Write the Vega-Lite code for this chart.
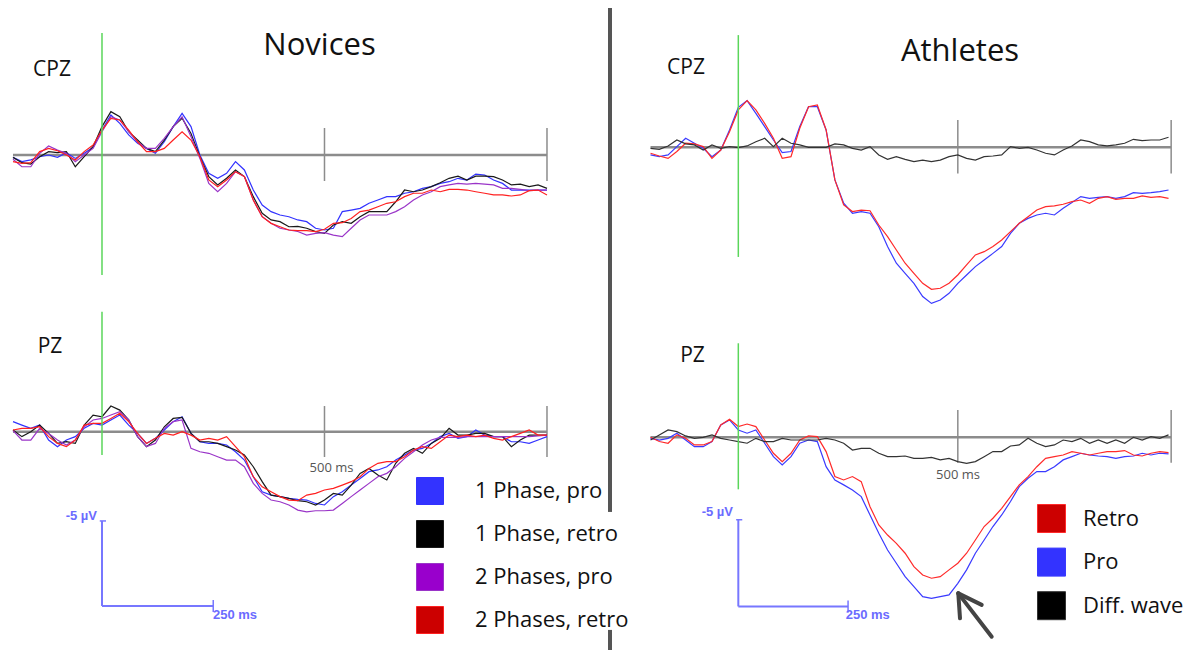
{
  "$schema": "https://vega.github.io/schema/vega-lite/v6.json",
  "padding": 0,
  "background": "white",
  "columns": 2,
  "spacing": 0,
  "bounds": "flush",
  "config": {"view": {"stroke": null}, "font": "Open Sans", "concat": {"spacing": 0}},
  "resolve": {"scale": {"color": "independent", "x": "independent", "y": "independent"}, "legend": {"color": "independent"}},
  "datasets": {
    "novCPZ": [
      {"t": -200, "1 Phase, pro": 0.14, "1 Phase, retro": 0.14, "2 Phases, pro": 0.25, "2 Phases, retro": 0.39},
      {"t": -180, "1 Phase, pro": 0.39, "1 Phase, retro": 0.45, "2 Phases, pro": 0.69, "2 Phases, retro": 0.49},
      {"t": -160, "1 Phase, pro": 0.29, "1 Phase, retro": 0.53, "2 Phases, pro": 0.69, "2 Phases, retro": 0.45},
      {"t": -140, "1 Phase, pro": 0.1, "1 Phase, retro": 0.1, "2 Phases, pro": -0.1, "2 Phases, retro": -0.2},
      {"t": -120, "1 Phase, pro": 0, "1 Phase, retro": -0.2, "2 Phases, pro": -0.53, "2 Phases, retro": -0.39},
      {"t": -100, "1 Phase, pro": 0.14, "1 Phase, retro": -0.14, "2 Phases, pro": -0.29, "2 Phases, retro": -0.25},
      {"t": -80, "1 Phase, pro": -0.14, "1 Phase, retro": -0.2, "2 Phases, pro": -0.1, "2 Phases, retro": 0},
      {"t": -60, "1 Phase, pro": 0.2, "1 Phase, retro": 0.69, "2 Phases, pro": 0.39, "2 Phases, retro": 0.29},
      {"t": -40, "1 Phase, pro": -0.1, "1 Phase, retro": 0.1, "2 Phases, pro": 0, "2 Phases, retro": -0.2},
      {"t": -20, "1 Phase, pro": -0.45, "1 Phase, retro": -0.49, "2 Phases, pro": -0.39, "2 Phases, retro": -0.59},
      {"t": 0, "1 Phase, pro": -1.47, "1 Phase, retro": -1.67, "2 Phases, pro": -1.37, "2 Phases, retro": -1.47},
      {"t": 20, "1 Phase, pro": -2.35, "1 Phase, retro": -2.55, "2 Phases, pro": -2.25, "2 Phases, retro": -2.16},
      {"t": 40, "1 Phase, pro": -1.86, "1 Phase, retro": -2.25, "2 Phases, pro": -2.06, "2 Phases, retro": -2.06},
      {"t": 60, "1 Phase, pro": -1.18, "1 Phase, retro": -1.37, "2 Phases, pro": -1.37, "2 Phases, retro": -1.47},
      {"t": 80, "1 Phase, pro": -0.69, "1 Phase, retro": -0.88, "2 Phases, pro": -0.78, "2 Phases, retro": -0.78},
      {"t": 100, "1 Phase, pro": -0.39, "1 Phase, retro": -0.39, "2 Phases, pro": -0.39, "2 Phases, retro": -0.2},
      {"t": 120, "1 Phase, pro": -0.1, "1 Phase, retro": -0.2, "2 Phases, pro": -0.39, "2 Phases, retro": -0.2},
      {"t": 140, "1 Phase, pro": -0.78, "1 Phase, retro": -0.88, "2 Phases, pro": -0.98, "2 Phases, retro": -0.39},
      {"t": 160, "1 Phase, pro": -1.67, "1 Phase, retro": -1.67, "2 Phases, pro": -1.67, "2 Phases, retro": -0.88},
      {"t": 180, "1 Phase, pro": -2.45, "1 Phase, retro": -2.16, "2 Phases, pro": -2.25, "2 Phases, retro": -1.37},
      {"t": 200, "1 Phase, pro": -1.67, "1 Phase, retro": -1.27, "2 Phases, pro": -1.08, "2 Phases, retro": -0.88},
      {"t": 220, "1 Phase, pro": 0, "1 Phase, retro": 0.1, "2 Phases, pro": 0.2, "2 Phases, retro": 0.1},
      {"t": 240, "1 Phase, pro": 1.08, "1 Phase, retro": 1.27, "2 Phases, pro": 1.67, "2 Phases, retro": 1.47},
      {"t": 260, "1 Phase, pro": 1.37, "1 Phase, retro": 1.76, "2 Phases, pro": 2.16, "2 Phases, retro": 1.86},
      {"t": 280, "1 Phase, pro": 1.08, "1 Phase, retro": 1.37, "2 Phases, pro": 1.67, "2 Phases, retro": 1.47},
      {"t": 300, "1 Phase, pro": 0.39, "1 Phase, retro": 0.88, "2 Phases, pro": 0.98, "2 Phases, retro": 0.98},
      {"t": 320, "1 Phase, pro": 0.88, "1 Phase, retro": 1.27, "2 Phases, pro": 1.27, "2 Phases, retro": 1.27},
      {"t": 340, "1 Phase, pro": 2.06, "1 Phase, retro": 2.45, "2 Phases, pro": 2.65, "2 Phases, retro": 2.65},
      {"t": 360, "1 Phase, pro": 2.94, "1 Phase, retro": 3.43, "2 Phases, pro": 3.63, "2 Phases, retro": 3.63},
      {"t": 380, "1 Phase, pro": 3.33, "1 Phase, retro": 3.82, "2 Phases, pro": 4.02, "2 Phases, retro": 4.02},
      {"t": 400, "1 Phase, pro": 3.53, "1 Phase, retro": 3.92, "2 Phases, pro": 4.31, "2 Phases, retro": 4.22},
      {"t": 420, "1 Phase, pro": 3.63, "1 Phase, retro": 4.22, "2 Phases, pro": 4.41, "2 Phases, retro": 4.41},
      {"t": 440, "1 Phase, pro": 3.82, "1 Phase, retro": 4.2, "2 Phases, pro": 4.5, "2 Phases, retro": 4.45},
      {"t": 460, "1 Phase, pro": 3.92, "1 Phase, retro": 4.31, "2 Phases, pro": 4.71, "2 Phases, retro": 4.45},
      {"t": 480, "1 Phase, pro": 4.31, "1 Phase, retro": 4.51, "2 Phases, pro": 4.61, "2 Phases, retro": 4.51},
      {"t": 500, "1 Phase, pro": 4.41, "1 Phase, retro": 4.61, "2 Phases, pro": 4.57, "2 Phases, retro": 4.37},
      {"t": 520, "1 Phase, pro": 4.31, "1 Phase, retro": 4.12, "2 Phases, pro": 4.71, "2 Phases, retro": 4.02},
      {"t": 540, "1 Phase, pro": 3.33, "1 Phase, retro": 3.92, "2 Phases, pro": 4.8, "2 Phases, retro": 3.98},
      {"t": 560, "1 Phase, pro": 3.24, "1 Phase, retro": 4.02, "2 Phases, pro": 4.31, "2 Phases, retro": 3.73},
      {"t": 580, "1 Phase, pro": 3.14, "1 Phase, retro": 3.63, "2 Phases, pro": 3.82, "2 Phases, retro": 3.33},
      {"t": 600, "1 Phase, pro": 2.84, "1 Phase, retro": 3.33, "2 Phases, pro": 3.53, "2 Phases, retro": 3.24},
      {"t": 620, "1 Phase, pro": 2.65, "1 Phase, retro": 3.33, "2 Phases, pro": 3.53, "2 Phases, retro": 3.04},
      {"t": 640, "1 Phase, pro": 2.45, "1 Phase, retro": 3.33, "2 Phases, pro": 3.53, "2 Phases, retro": 2.84},
      {"t": 660, "1 Phase, pro": 2.45, "1 Phase, retro": 2.75, "2 Phases, pro": 3.33, "2 Phases, retro": 2.75},
      {"t": 680, "1 Phase, pro": 2.25, "1 Phase, retro": 2.06, "2 Phases, pro": 3.04, "2 Phases, retro": 2.45},
      {"t": 700, "1 Phase, pro": 2.16, "1 Phase, retro": 2.16, "2 Phases, pro": 2.65, "2 Phases, retro": 2.25},
      {"t": 720, "1 Phase, pro": 1.96, "1 Phase, retro": 2.06, "2 Phases, pro": 2.35, "2 Phases, retro": 2.25},
      {"t": 740, "1 Phase, pro": 1.86, "1 Phase, retro": 1.86, "2 Phases, pro": 2.16, "2 Phases, retro": 2.06},
      {"t": 760, "1 Phase, pro": 1.67, "1 Phase, retro": 1.63, "2 Phases, pro": 1.86, "2 Phases, retro": 2.16},
      {"t": 780, "1 Phase, pro": 1.57, "1 Phase, retro": 1.37, "2 Phases, pro": 1.76, "2 Phases, retro": 2.02},
      {"t": 800, "1 Phase, pro": 1.37, "1 Phase, retro": 1.24, "2 Phases, pro": 1.67, "2 Phases, retro": 2.02},
      {"t": 820, "1 Phase, pro": 1.47, "1 Phase, retro": 1.47, "2 Phases, pro": 1.71, "2 Phases, retro": 2.06},
      {"t": 840, "1 Phase, pro": 1.12, "1 Phase, retro": 1.24, "2 Phases, pro": 1.67, "2 Phases, retro": 2.16},
      {"t": 860, "1 Phase, pro": 1.18, "1 Phase, retro": 1.24, "2 Phases, pro": 1.71, "2 Phases, retro": 2.25},
      {"t": 880, "1 Phase, pro": 1.47, "1 Phase, retro": 1.27, "2 Phases, pro": 1.76, "2 Phases, retro": 2.35},
      {"t": 900, "1 Phase, pro": 1.67, "1 Phase, retro": 1.47, "2 Phases, pro": 1.96, "2 Phases, retro": 2.35},
      {"t": 920, "1 Phase, pro": 2.06, "1 Phase, retro": 1.76, "2 Phases, pro": 1.96, "2 Phases, retro": 2.41},
      {"t": 940, "1 Phase, pro": 2.06, "1 Phase, retro": 1.71, "2 Phases, pro": 2.02, "2 Phases, retro": 2.35},
      {"t": 960, "1 Phase, pro": 2.06, "1 Phase, retro": 1.86, "2 Phases, pro": 2.1, "2 Phases, retro": 2.1},
      {"t": 980, "1 Phase, pro": 2.06, "1 Phase, retro": 1.76, "2 Phases, pro": 2.06, "2 Phases, retro": 2.06},
      {"t": 1000, "1 Phase, pro": 2.06, "1 Phase, retro": 1.96, "2 Phases, pro": 2.06, "2 Phases, retro": 2.35}
    ],
    "novPZ": [
      {"t": -200, "1 Phase, pro": -0.59, "1 Phase, retro": -0.1, "2 Phases, pro": -0.06, "2 Phases, retro": -0.1},
      {"t": -180, "1 Phase, pro": -0.39, "1 Phase, retro": 0.29, "2 Phases, pro": 0.49, "2 Phases, retro": -0.2},
      {"t": -160, "1 Phase, pro": -0.2, "1 Phase, retro": 0, "2 Phases, pro": 0.49, "2 Phases, retro": -0.2},
      {"t": -140, "1 Phase, pro": -0.39, "1 Phase, retro": -0.39, "2 Phases, pro": -0.2, "2 Phases, retro": -0.29},
      {"t": -120, "1 Phase, pro": 0.49, "1 Phase, retro": 0.1, "2 Phases, pro": 0.1, "2 Phases, retro": 0.29},
      {"t": -100, "1 Phase, pro": 0.88, "1 Phase, retro": 0.69, "2 Phases, pro": 0.49, "2 Phases, retro": 0.69},
      {"t": -80, "1 Phase, pro": 0.49, "1 Phase, retro": 0.59, "2 Phases, pro": 0.78, "2 Phases, retro": 0.88},
      {"t": -60, "1 Phase, pro": 0.29, "1 Phase, retro": 0.69, "2 Phases, pro": 0.49, "2 Phases, retro": 0.49},
      {"t": -40, "1 Phase, pro": -0.2, "1 Phase, retro": -0.39, "2 Phases, pro": -0.29, "2 Phases, retro": -0.39},
      {"t": -20, "1 Phase, pro": -0.49, "1 Phase, retro": -0.98, "2 Phases, pro": -0.69, "2 Phases, retro": -0.49},
      {"t": 0, "1 Phase, pro": -0.39, "1 Phase, retro": -0.88, "2 Phases, pro": -0.78, "2 Phases, retro": -0.49},
      {"t": 20, "1 Phase, pro": -0.69, "1 Phase, retro": -1.51, "2 Phases, pro": -0.98, "2 Phases, retro": -0.78},
      {"t": 40, "1 Phase, pro": -0.98, "1 Phase, retro": -1.27, "2 Phases, pro": -1.18, "2 Phases, retro": -1.08},
      {"t": 60, "1 Phase, pro": -0.39, "1 Phase, retro": -0.69, "2 Phases, pro": -0.69, "2 Phases, retro": -0.59},
      {"t": 80, "1 Phase, pro": 0.1, "1 Phase, retro": 0.29, "2 Phases, pro": 0.29, "2 Phases, retro": 0.1},
      {"t": 100, "1 Phase, pro": 0.69, "1 Phase, retro": 0.88, "2 Phases, pro": 0.88, "2 Phases, retro": 0.69},
      {"t": 120, "1 Phase, pro": 0.39, "1 Phase, retro": 0.49, "2 Phases, pro": 0.69, "2 Phases, retro": 0.39},
      {"t": 140, "1 Phase, pro": -0.1, "1 Phase, retro": -0.29, "2 Phases, pro": -0.2, "2 Phases, retro": 0.1},
      {"t": 160, "1 Phase, pro": -0.59, "1 Phase, retro": -0.78, "2 Phases, pro": -0.59, "2 Phases, retro": 0.2},
      {"t": 180, "1 Phase, pro": -0.88, "1 Phase, retro": -0.84, "2 Phases, pro": -0.69, "2 Phases, retro": 0},
      {"t": 200, "1 Phase, pro": 0.1, "1 Phase, retro": 0.1, "2 Phases, pro": 0.98, "2 Phases, retro": 0.2},
      {"t": 220, "1 Phase, pro": 0.59, "1 Phase, retro": 0.59, "2 Phases, pro": 1.18, "2 Phases, retro": 0.49},
      {"t": 240, "1 Phase, pro": 0.69, "1 Phase, retro": 0.59, "2 Phases, pro": 1.27, "2 Phases, retro": 0.39},
      {"t": 260, "1 Phase, pro": 0.69, "1 Phase, retro": 0.69, "2 Phases, pro": 1.47, "2 Phases, retro": 0.49},
      {"t": 280, "1 Phase, pro": 0.78, "1 Phase, retro": 0.88, "2 Phases, pro": 1.67, "2 Phases, retro": 0.29},
      {"t": 300, "1 Phase, pro": 1.18, "1 Phase, retro": 1.08, "2 Phases, pro": 1.67, "2 Phases, retro": 0.88},
      {"t": 320, "1 Phase, pro": 1.67, "1 Phase, retro": 1.37, "2 Phases, pro": 2.06, "2 Phases, retro": 1.47},
      {"t": 340, "1 Phase, pro": 2.65, "1 Phase, retro": 2.06, "2 Phases, pro": 3.04, "2 Phases, retro": 2.65},
      {"t": 360, "1 Phase, pro": 3.53, "1 Phase, retro": 2.94, "2 Phases, pro": 3.63, "2 Phases, retro": 3.24},
      {"t": 380, "1 Phase, pro": 3.73, "1 Phase, retro": 3.73, "2 Phases, pro": 4.02, "2 Phases, retro": 3.53},
      {"t": 400, "1 Phase, pro": 3.82, "1 Phase, retro": 3.82, "2 Phases, pro": 4.12, "2 Phases, retro": 3.82},
      {"t": 420, "1 Phase, pro": 3.92, "1 Phase, retro": 3.92, "2 Phases, pro": 4.31, "2 Phases, retro": 4.02},
      {"t": 440, "1 Phase, pro": 3.98, "1 Phase, retro": 4.06, "2 Phases, pro": 4.61, "2 Phases, retro": 4.06},
      {"t": 460, "1 Phase, pro": 4.02, "1 Phase, retro": 4.12, "2 Phases, pro": 4.71, "2 Phases, retro": 3.73},
      {"t": 480, "1 Phase, pro": 4.22, "1 Phase, retro": 4.31, "2 Phases, pro": 4.65, "2 Phases, retro": 3.63},
      {"t": 500, "1 Phase, pro": 4.31, "1 Phase, retro": 4.02, "2 Phases, pro": 4.65, "2 Phases, retro": 3.43},
      {"t": 520, "1 Phase, pro": 3.82, "1 Phase, retro": 3.63, "2 Phases, pro": 4.61, "2 Phases, retro": 3.33},
      {"t": 540, "1 Phase, pro": 3.53, "1 Phase, retro": 3.73, "2 Phases, pro": 4.22, "2 Phases, retro": 3.14},
      {"t": 560, "1 Phase, pro": 3.14, "1 Phase, retro": 3.14, "2 Phases, pro": 3.82, "2 Phases, retro": 2.94},
      {"t": 580, "1 Phase, pro": 2.75, "1 Phase, retro": 2.45, "2 Phases, pro": 3.43, "2 Phases, retro": 2.65},
      {"t": 600, "1 Phase, pro": 2.35, "1 Phase, retro": 2.16, "2 Phases, pro": 3.04, "2 Phases, retro": 2.16},
      {"t": 620, "1 Phase, pro": 2.25, "1 Phase, retro": 2.55, "2 Phases, pro": 2.65, "2 Phases, retro": 1.86},
      {"t": 640, "1 Phase, pro": 2.06, "1 Phase, retro": 2.84, "2 Phases, pro": 2.45, "2 Phases, retro": 1.76},
      {"t": 660, "1 Phase, pro": 1.67, "1 Phase, retro": 1.86, "2 Phases, pro": 2.06, "2 Phases, retro": 1.76},
      {"t": 680, "1 Phase, pro": 1.37, "1 Phase, retro": 1.27, "2 Phases, pro": 1.57, "2 Phases, retro": 1.47},
      {"t": 700, "1 Phase, pro": 1.08, "1 Phase, retro": 0.98, "2 Phases, pro": 1.18, "2 Phases, retro": 1.08},
      {"t": 720, "1 Phase, pro": 0.98, "1 Phase, retro": 1.27, "2 Phases, pro": 0.78, "2 Phases, retro": 0.88},
      {"t": 740, "1 Phase, pro": 0.69, "1 Phase, retro": 0.69, "2 Phases, pro": 0.49, "2 Phases, retro": 0.98},
      {"t": 760, "1 Phase, pro": 0.29, "1 Phase, retro": 0.39, "2 Phases, pro": 0.33, "2 Phases, retro": 0.59},
      {"t": 780, "1 Phase, pro": 0.1, "1 Phase, retro": -0.2, "2 Phases, pro": 0.33, "2 Phases, retro": 0.2},
      {"t": 800, "1 Phase, pro": 0.39, "1 Phase, retro": 0.2, "2 Phases, pro": 0.33, "2 Phases, retro": 0.29},
      {"t": 820, "1 Phase, pro": 0.29, "1 Phase, retro": 0.2, "2 Phases, pro": 0.29, "2 Phases, retro": 0.2},
      {"t": 840, "1 Phase, pro": -0.1, "1 Phase, retro": 0.1, "2 Phases, pro": 0.29, "2 Phases, retro": 0.29},
      {"t": 860, "1 Phase, pro": 0.2, "1 Phase, retro": 0.1, "2 Phases, pro": 0.29, "2 Phases, retro": 0.2},
      {"t": 880, "1 Phase, pro": 0.29, "1 Phase, retro": 0.29, "2 Phases, pro": 0.29, "2 Phases, retro": 0.39},
      {"t": 900, "1 Phase, pro": 0.29, "1 Phase, retro": 0.29, "2 Phases, pro": 0.29, "2 Phases, retro": 0.49},
      {"t": 920, "1 Phase, pro": 0.59, "1 Phase, retro": 0.88, "2 Phases, pro": 0.29, "2 Phases, retro": 0.29},
      {"t": 940, "1 Phase, pro": 0.59, "1 Phase, retro": 0.49, "2 Phases, pro": 0.29, "2 Phases, retro": 0.1},
      {"t": 960, "1 Phase, pro": 0.69, "1 Phase, retro": 0.2, "2 Phases, pro": 0.29, "2 Phases, retro": -0.1},
      {"t": 980, "1 Phase, pro": 0.49, "1 Phase, retro": 0.2, "2 Phases, pro": 0.25, "2 Phases, retro": 0.2},
      {"t": 1000, "1 Phase, pro": 0.29, "1 Phase, retro": 0.2, "2 Phases, pro": 0.2, "2 Phases, retro": 0.2}
    ],
    "athCPZ": [
      {"t": -200, "Retro": 0.35, "Pro": 0.45, "Diff. wave": 0.06},
      {"t": -180, "Retro": 0.51, "Pro": 0.55, "Diff. wave": 0.12},
      {"t": -160, "Retro": 0.65, "Pro": 0.45, "Diff. wave": -0.08},
      {"t": -140, "Retro": 0.25, "Pro": -0.04, "Diff. wave": -0.43},
      {"t": -120, "Retro": -0.24, "Pro": -0.53, "Diff. wave": -0.2},
      {"t": -100, "Retro": -0.2, "Pro": -0.24, "Diff. wave": -0.14},
      {"t": -80, "Retro": -0.04, "Pro": 0.06, "Diff. wave": 0.16},
      {"t": -60, "Retro": 0.65, "Pro": 0.55, "Diff. wave": -0.14},
      {"t": -40, "Retro": 0.16, "Pro": 0.16, "Diff. wave": 0.06},
      {"t": -20, "Retro": -0.92, "Pro": -1.02, "Diff. wave": -0.04},
      {"t": 0, "Retro": -2.2, "Pro": -2.35, "Diff. wave": 0.02},
      {"t": 20, "Retro": -2.75, "Pro": -2.75, "Diff. wave": -0.08},
      {"t": 40, "Retro": -2.2, "Pro": -2.0, "Diff. wave": -0.33},
      {"t": 60, "Retro": -1.41, "Pro": -1.22, "Diff. wave": -0.53},
      {"t": 80, "Retro": -0.53, "Pro": -0.43, "Diff. wave": -0.04},
      {"t": 100, "Retro": 0.65, "Pro": 0.31, "Diff. wave": -0.53},
      {"t": 120, "Retro": 0.55, "Pro": 0.25, "Diff. wave": -0.24},
      {"t": 140, "Retro": -1.12, "Pro": -1.22, "Diff. wave": -0.14},
      {"t": 160, "Retro": -2.39, "Pro": -2.39, "Diff. wave": 0},
      {"t": 180, "Retro": -2.49, "Pro": -2.39, "Diff. wave": 0},
      {"t": 200, "Retro": -1.02, "Pro": -1.02, "Diff. wave": 0},
      {"t": 220, "Retro": 1.92, "Pro": 1.92, "Diff. wave": -0.2},
      {"t": 240, "Retro": 3.39, "Pro": 3.29, "Diff. wave": -0.14},
      {"t": 260, "Retro": 3.78, "Pro": 3.88, "Diff. wave": 0.06},
      {"t": 280, "Retro": 3.69, "Pro": 3.78, "Diff. wave": 0.16},
      {"t": 300, "Retro": 3.73, "Pro": 3.88, "Diff. wave": -0.04},
      {"t": 320, "Retro": 4.57, "Pro": 4.67, "Diff. wave": 0.45},
      {"t": 340, "Retro": 5.25, "Pro": 5.84, "Diff. wave": 0.71},
      {"t": 360, "Retro": 6.04, "Pro": 6.82, "Diff. wave": 0.55},
      {"t": 380, "Retro": 6.82, "Pro": 7.41, "Diff. wave": 0.71},
      {"t": 400, "Retro": 7.41, "Pro": 8.0, "Diff. wave": 0.84},
      {"t": 420, "Retro": 8.0, "Pro": 8.78, "Diff. wave": 0.75},
      {"t": 440, "Retro": 8.35, "Pro": 9.18, "Diff. wave": 0.84},
      {"t": 460, "Retro": 8.29, "Pro": 8.98, "Diff. wave": 0.75},
      {"t": 480, "Retro": 8.0, "Pro": 8.59, "Diff. wave": 0.55},
      {"t": 500, "Retro": 7.51, "Pro": 8.0, "Diff. wave": 0.45},
      {"t": 520, "Retro": 6.92, "Pro": 7.51, "Diff. wave": 0.65},
      {"t": 540, "Retro": 6.33, "Pro": 7.02, "Diff. wave": 0.75},
      {"t": 560, "Retro": 6.14, "Pro": 6.63, "Diff. wave": 0.55},
      {"t": 580, "Retro": 5.84, "Pro": 6.24, "Diff. wave": 0.51},
      {"t": 600, "Retro": 5.45, "Pro": 5.84, "Diff. wave": 0.45},
      {"t": 620, "Retro": 4.96, "Pro": 5.06, "Diff. wave": -0.04},
      {"t": 640, "Retro": 4.47, "Pro": 4.47, "Diff. wave": 0.06},
      {"t": 660, "Retro": 4.08, "Pro": 4.18, "Diff. wave": 0},
      {"t": 680, "Retro": 3.69, "Pro": 3.98, "Diff. wave": 0.16},
      {"t": 700, "Retro": 3.49, "Pro": 3.88, "Diff. wave": 0.35},
      {"t": 720, "Retro": 3.45, "Pro": 3.98, "Diff. wave": 0.45},
      {"t": 740, "Retro": 3.35, "Pro": 3.59, "Diff. wave": 0.16},
      {"t": 760, "Retro": 3.2, "Pro": 3.25, "Diff. wave": -0.08},
      {"t": 780, "Retro": 3.1, "Pro": 2.9, "Diff. wave": -0.43},
      {"t": 800, "Retro": 3.29, "Pro": 3.0, "Diff. wave": -0.33},
      {"t": 820, "Retro": 3.0, "Pro": 2.94, "Diff. wave": -0.14},
      {"t": 840, "Retro": 2.9, "Pro": 2.9, "Diff. wave": -0.08},
      {"t": 860, "Retro": 3.06, "Pro": 3.0, "Diff. wave": -0.14},
      {"t": 880, "Retro": 3.0, "Pro": 2.9, "Diff. wave": -0.24},
      {"t": 900, "Retro": 3.0, "Pro": 2.67, "Diff. wave": -0.47},
      {"t": 920, "Retro": 2.86, "Pro": 2.71, "Diff. wave": -0.39},
      {"t": 940, "Retro": 2.94, "Pro": 2.67, "Diff. wave": -0.43},
      {"t": 960, "Retro": 2.9, "Pro": 2.61, "Diff. wave": -0.43},
      {"t": 980, "Retro": 3.0, "Pro": 2.51, "Diff. wave": -0.59}
    ],
    "athPZ": [
      {"t": -200, "Retro": 0, "Pro": 0.06, "Diff. wave": 0.16},
      {"t": -180, "Retro": 0.25, "Pro": 0.16, "Diff. wave": -0.14},
      {"t": -160, "Retro": 0.35, "Pro": 0.06, "Diff. wave": -0.43},
      {"t": -140, "Retro": -0.14, "Pro": -0.24, "Diff. wave": -0.33},
      {"t": -120, "Retro": 0.06, "Pro": 0.16, "Diff. wave": -0.08},
      {"t": -100, "Retro": 0.45, "Pro": 0.55, "Diff. wave": 0.06},
      {"t": -80, "Retro": 0.45, "Pro": 0.55, "Diff. wave": 0},
      {"t": -60, "Retro": 0.25, "Pro": 0.25, "Diff. wave": -0.14},
      {"t": -40, "Retro": -0.73, "Pro": -0.73, "Diff. wave": 0.06},
      {"t": -20, "Retro": -1.06, "Pro": -1.02, "Diff. wave": 0.16},
      {"t": 0, "Retro": -0.63, "Pro": -0.43, "Diff. wave": 0.25},
      {"t": 20, "Retro": -0.78, "Pro": -0.24, "Diff. wave": 0.35},
      {"t": 40, "Retro": -0.63, "Pro": -0.43, "Diff. wave": 0.06},
      {"t": 60, "Retro": 0.16, "Pro": 0.35, "Diff. wave": 0.25},
      {"t": 80, "Retro": 0.94, "Pro": 1.14, "Diff. wave": 0.25},
      {"t": 100, "Retro": 1.43, "Pro": 1.63, "Diff. wave": 0.06},
      {"t": 120, "Retro": 0.94, "Pro": 1.14, "Diff. wave": 0.16},
      {"t": 140, "Retro": 0.16, "Pro": 0.35, "Diff. wave": 0.16},
      {"t": 160, "Retro": -0.08, "Pro": 0.16, "Diff. wave": 0.16},
      {"t": 180, "Retro": -0.04, "Pro": 0.25, "Diff. wave": 0.16},
      {"t": 200, "Retro": 0.84, "Pro": 1.73, "Diff. wave": 0.06},
      {"t": 220, "Retro": 2.31, "Pro": 2.51, "Diff. wave": 0.16},
      {"t": 240, "Retro": 2.51, "Pro": 2.8, "Diff. wave": 0.35},
      {"t": 260, "Retro": 2.31, "Pro": 3.1, "Diff. wave": 0.75},
      {"t": 280, "Retro": 2.61, "Pro": 3.49, "Diff. wave": 0.65},
      {"t": 300, "Retro": 4.08, "Pro": 4.57, "Diff. wave": 0.65},
      {"t": 320, "Retro": 5.16, "Pro": 5.65, "Diff. wave": 0.94},
      {"t": 340, "Retro": 5.75, "Pro": 6.63, "Diff. wave": 1.14},
      {"t": 360, "Retro": 6.24, "Pro": 7.41, "Diff. wave": 1.14},
      {"t": 380, "Retro": 6.82, "Pro": 8.2, "Diff. wave": 1.1},
      {"t": 400, "Retro": 7.61, "Pro": 8.78, "Diff. wave": 1.24},
      {"t": 420, "Retro": 8.1, "Pro": 9.37, "Diff. wave": 1.24},
      {"t": 440, "Retro": 8.29, "Pro": 9.47, "Diff. wave": 1.18},
      {"t": 460, "Retro": 8.2, "Pro": 9.37, "Diff. wave": 1.33},
      {"t": 480, "Retro": 7.8, "Pro": 9.27, "Diff. wave": 1.24},
      {"t": 500, "Retro": 7.41, "Pro": 8.59, "Diff. wave": 1.43},
      {"t": 520, "Retro": 6.82, "Pro": 7.8, "Diff. wave": 1.53},
      {"t": 540, "Retro": 6.04, "Pro": 6.82, "Diff. wave": 1.43},
      {"t": 560, "Retro": 5.25, "Pro": 6.04, "Diff. wave": 1.14},
      {"t": 580, "Retro": 4.76, "Pro": 5.25, "Diff. wave": 0.84},
      {"t": 600, "Retro": 4.18, "Pro": 4.57, "Diff. wave": 0.84},
      {"t": 620, "Retro": 3.49, "Pro": 3.78, "Diff. wave": 0.51},
      {"t": 640, "Retro": 2.8, "Pro": 2.9, "Diff. wave": 0.45},
      {"t": 660, "Retro": 2.31, "Pro": 2.41, "Diff. wave": 0.06},
      {"t": 680, "Retro": 1.73, "Pro": 2.02, "Diff. wave": 0.35},
      {"t": 700, "Retro": 1.24, "Pro": 2.02, "Diff. wave": 0.55},
      {"t": 720, "Retro": 1.14, "Pro": 1.73, "Diff. wave": 0.45},
      {"t": 740, "Retro": 1.04, "Pro": 1.33, "Diff. wave": 0.16},
      {"t": 760, "Retro": 0.84, "Pro": 1.14, "Diff. wave": 0.25},
      {"t": 780, "Retro": 0.94, "Pro": 0.94, "Diff. wave": 0.06},
      {"t": 800, "Retro": 1.04, "Pro": 1.04, "Diff. wave": 0.35},
      {"t": 820, "Retro": 0.94, "Pro": 1.1, "Diff. wave": 0.16},
      {"t": 840, "Retro": 0.84, "Pro": 1.14, "Diff. wave": 0.35},
      {"t": 860, "Retro": 0.84, "Pro": 1.24, "Diff. wave": 0.16},
      {"t": 880, "Retro": 0.78, "Pro": 1.14, "Diff. wave": 0.35},
      {"t": 900, "Retro": 1.04, "Pro": 1.1, "Diff. wave": 0},
      {"t": 920, "Retro": 1.1, "Pro": 0.94, "Diff. wave": 0.16},
      {"t": 940, "Retro": 0.94, "Pro": 1.04, "Diff. wave": -0.04},
      {"t": 960, "Retro": 0.84, "Pro": 0.94, "Diff. wave": 0.06},
      {"t": 980, "Retro": 0.9, "Pro": 0.98, "Diff. wave": -0.14}
    ]
  },
  "concat": [
    {
      "width": 610,
      "height": 300,
      "layer": [
        {"data": {"values": [{}]}, "mark": {"type": "rule", "color": "#8c8c8c", "strokeWidth": 2.5},
         "encoding": {"x": {"datum": -200, "type": "quantitative", "axis": null}, "x2": {"datum": 1000}, "y": {"datum": 0, "type": "quantitative", "axis": null}}},
        {"data": {"values": [{"t": 500}, {"t": 1000}]}, "mark": {"type": "rule", "color": "#8c8c8c", "strokeWidth": 1.5},
         "encoding": {"x": {"field": "t", "type": "quantitative", "axis": null}, "y": {"datum": -1.59, "type": "quantitative", "axis": null}, "y2": {"datum": 1.53}}},
        {"data": {"name": "novCPZ"},
         "transform": [{"fold": ["1 Phase, pro", "1 Phase, retro", "2 Phases, pro", "2 Phases, retro"], "as": ["condition", "amplitude"]}],
         "mark": {"type": "line", "strokeWidth": 1.2},
         "encoding": {
           "x": {"field": "t", "type": "quantitative", "scale": {"domain": [-229.2, 1141.6], "nice": false, "zero": false}, "axis": null},
           "y": {"field": "amplitude", "type": "quantitative", "scale": {"domain": [-9.118, 8.529], "reverse": true, "nice": false, "zero": false}, "axis": null},
           "color": {"field": "condition", "type": "nominal", "scale": {"domain": ["1 Phase, pro", "1 Phase, retro", "2 Phases, pro", "2 Phases, retro"], "range": ["#3232ff", "#1a1a1a", "#9a35c8", "#ff2020"]}, "legend": null}
         }},
        {"data": {"values": [{}]}, "mark": {"type": "rule", "color": "#5ad65a", "strokeWidth": 1.5},
         "encoding": {"x": {"datum": 0, "type": "quantitative", "axis": null}, "y": {"datum": -7.18, "type": "quantitative", "axis": null}, "y2": {"datum": 7.06}}},
        {"data": {"values": [{}]}, "mark": {"type": "rule", "color": "#555555", "strokeWidth": 4},
         "encoding": {"x": {"datum": 1141.6, "type": "quantitative", "axis": null}, "y": {"datum": -8.65, "type": "quantitative", "axis": null}, "y2": {"datum": 8.529}}},
        {"data": {"values": [{}]}, "mark": {"type": "text", "text": "CPZ", "font": "Open Sans", "fontSize": 21, "align": "center", "baseline": "middle", "color": "#111111"},
         "encoding": {"x": {"datum": -112.4, "type": "quantitative", "axis": null}, "y": {"datum": -5.0, "type": "quantitative", "axis": null}}},
        {"data": {"values": [{}]}, "mark": {"type": "text", "text": "Novices", "font": "Open Sans", "fontSize": 31, "align": "center", "baseline": "alphabetic", "color": "#111111"},
         "encoding": {"x": {"datum": 488.8, "type": "quantitative", "axis": null}, "y": {"datum": -5.88, "type": "quantitative", "axis": null}}}
      ]
    },
    {
      "width": 585,
      "height": 300,
      "layer": [
        {"data": {"values": [{}]}, "mark": {"type": "rule", "color": "#8c8c8c", "strokeWidth": 2.5},
         "encoding": {"x": {"datum": -200, "type": "quantitative", "axis": null}, "x2": {"datum": 986}, "y": {"datum": 0, "type": "quantitative", "axis": null}}},
        {"data": {"values": [{"t": 500}, {"t": 986}]}, "mark": {"type": "rule", "color": "#8c8c8c", "strokeWidth": 1.5},
         "encoding": {"x": {"field": "t", "type": "quantitative", "axis": null}, "y": {"datum": -1.6, "type": "quantitative", "axis": null}, "y2": {"datum": 1.54}}},
        {"data": {"name": "athCPZ"},
         "transform": [{"fold": ["Pro", "Retro", "Diff\\. wave"], "as": ["condition", "amplitude"]}],
         "mark": {"type": "line", "strokeWidth": 1.2},
         "encoding": {
           "x": {"field": "t", "type": "quantitative", "scale": {"domain": [-292.3, 1040.3], "nice": false, "zero": false}, "axis": null},
           "y": {"field": "amplitude", "type": "quantitative", "scale": {"domain": [-8.665, 8.982], "reverse": true, "nice": false, "zero": false}, "axis": null},
           "color": {"field": "condition", "type": "nominal", "scale": {"domain": ["Retro", "Pro", "Diff. wave"], "range": ["#ff2a2a", "#3a3aff", "#333333"]}, "legend": null}
         }},
        {"data": {"values": [{}]}, "mark": {"type": "rule", "color": "#5ad65a", "strokeWidth": 1.5},
         "encoding": {"x": {"datum": 0, "type": "quantitative", "axis": null}, "y": {"datum": -6.6, "type": "quantitative", "axis": null}, "y2": {"datum": 6.45}}},
        {"data": {"values": [{}]}, "mark": {"type": "text", "text": "CPZ", "font": "Open Sans", "fontSize": 21, "align": "center", "baseline": "middle", "color": "#111111"},
         "encoding": {"x": {"datum": -119.1, "type": "quantitative", "axis": null}, "y": {"datum": -4.69, "type": "quantitative", "axis": null}}},
        {"data": {"values": [{}]}, "mark": {"type": "text", "text": "Athletes", "font": "Open Sans", "fontSize": 31, "align": "center", "baseline": "alphabetic", "color": "#111111"},
         "encoding": {"x": {"datum": 505, "type": "quantitative", "axis": null}, "y": {"datum": -5.05, "type": "quantitative", "axis": null}}}
      ]
    },
    {
      "width": 610,
      "height": 350,
      "layer": [
        {"data": {"values": [{}]}, "mark": {"type": "rule", "color": "#8c8c8c", "strokeWidth": 2.5},
         "encoding": {"x": {"datum": -200, "type": "quantitative", "axis": null}, "x2": {"datum": 1000}, "y": {"datum": 0, "type": "quantitative", "axis": null}}},
        {"data": {"values": [{"t": 500}, {"t": 1000}]}, "mark": {"type": "rule", "color": "#8c8c8c", "strokeWidth": 1.5},
         "encoding": {"x": {"field": "t", "type": "quantitative", "axis": null}, "y": {"datum": -1.51, "type": "quantitative", "axis": null}, "y2": {"datum": 1.49}}},
        {"data": {"name": "novPZ"},
         "transform": [{"fold": ["1 Phase, pro", "1 Phase, retro", "2 Phases, pro", "2 Phases, retro"], "as": ["condition", "amplitude"]}],
         "mark": {"type": "line", "strokeWidth": 1.2},
         "encoding": {
           "x": {"field": "t", "type": "quantitative", "scale": {"domain": [-229.2, 1141.6], "nice": false, "zero": false}, "axis": null},
           "y": {"field": "amplitude", "type": "quantitative", "scale": {"domain": [-7.747, 12.841], "reverse": true, "nice": false, "zero": false}, "axis": null},
           "color": {"field": "condition", "type": "nominal",
             "scale": {"domain": ["1 Phase, pro", "1 Phase, retro", "2 Phases, pro", "2 Phases, retro"], "range": ["#3232ff", "#1a1a1a", "#9a35c8", "#ff2020"]},
             "legend": {"title": null, "orient": "none", "legendX": 416, "legendY": 177, "padding": 0,
               "symbolType": "square", "symbolSize": 729, "symbolStrokeWidth": 1, "symbolStrokeColor": "#333333",
               "labelFont": "Open Sans", "labelFontSize": 22, "labelColor": "#111111", "labelOffset": 31, "labelLimit": 400, "rowPadding": 11,
               "encode": {"symbols": {"update": {
                 "fill": {"signal": "datum.value === '1 Phase, pro' ? '#3333ff' : datum.value === '1 Phase, retro' ? '#000000' : datum.value === '2 Phases, pro' ? '#9900cc' : '#cc0000'"},
                 "stroke": {"value": "#333333"}, "strokeWidth": {"value": 1}, "opacity": {"value": 1}, "fillOpacity": {"value": 1}}}}}}
         }},
        {"data": {"values": [{}]}, "mark": {"type": "rule", "color": "#5ad65a", "strokeWidth": 1.5},
         "encoding": {"x": {"datum": 0, "type": "quantitative", "axis": null}, "y": {"datum": -7.06, "type": "quantitative", "axis": null}, "y2": {"datum": 1.37}}},
        {"data": {"values": [{}]}, "mark": {"type": "rule", "color": "#555555", "strokeWidth": 4},
         "encoding": {"x": {"datum": 1141.6, "type": "quantitative", "axis": null}, "y": {"datum": -7.747, "type": "quantitative", "axis": null}, "y2": {"datum": 4.72}}},
        {"data": {"values": [{}]}, "mark": {"type": "rule", "color": "#555555", "strokeWidth": 4},
         "encoding": {"x": {"datum": 1141.6, "type": "quantitative", "axis": null}, "y": {"datum": 11.66, "type": "quantitative", "axis": null}, "y2": {"datum": 12.841}}},
        {"data": {"values": [{}]}, "mark": {"type": "rule", "color": "#7777ff", "strokeWidth": 2},
         "encoding": {"x": {"datum": 0, "type": "quantitative", "axis": null}, "y": {"datum": 5.25, "type": "quantitative", "axis": null}, "y2": {"datum": 10.25}}},
        {"data": {"values": [{}]}, "mark": {"type": "rule", "color": "#7777ff", "strokeWidth": 2},
         "encoding": {"x": {"datum": 0, "type": "quantitative", "axis": null}, "x2": {"datum": 250}, "y": {"datum": 10.25, "type": "quantitative", "axis": null}}},
        {"data": {"values": [{}]}, "mark": {"type": "rule", "color": "#7777ff", "strokeWidth": 1.5},
         "encoding": {"x": {"datum": -5, "type": "quantitative", "axis": null}, "x2": {"datum": 9}, "y": {"datum": 5.25, "type": "quantitative", "axis": null}}},
        {"data": {"values": [{}]}, "mark": {"type": "rule", "color": "#7777ff", "strokeWidth": 1.5},
         "encoding": {"x": {"datum": 250, "type": "quantitative", "axis": null}, "y": {"datum": 9.9, "type": "quantitative", "axis": null}, "y2": {"datum": 10.6}}},
        {"data": {"values": [{}]}, "mark": {"type": "text", "text": "-5 µV", "font": "Liberation Sans", "fontWeight": "bold", "fontSize": 13, "align": "right", "baseline": "middle", "color": "#6b6bff"},
         "encoding": {"x": {"datum": -11.2, "type": "quantitative", "axis": null}, "y": {"datum": 4.96, "type": "quantitative", "axis": null}}},
        {"data": {"values": [{}]}, "mark": {"type": "text", "text": "250 ms", "font": "Liberation Sans", "fontWeight": "bold", "fontSize": 13, "align": "left", "baseline": "middle", "color": "#6b6bff"},
         "encoding": {"x": {"datum": 249.4, "type": "quantitative", "axis": null}, "y": {"datum": 10.78, "type": "quantitative", "axis": null}}},
        {"data": {"values": [{}]}, "mark": {"type": "text", "text": "500 ms", "font": "Open Sans", "fontSize": 13, "align": "center", "baseline": "middle", "color": "#555555"},
         "encoding": {"x": {"datum": 515.7, "type": "quantitative", "axis": null}, "y": {"datum": 2.14, "type": "quantitative", "axis": null}}},
        {"data": {"values": [{}]}, "mark": {"type": "text", "text": "PZ", "font": "Open Sans", "fontSize": 21, "align": "center", "baseline": "middle", "color": "#111111"},
         "encoding": {"x": {"datum": -116.9, "type": "quantitative", "axis": null}, "y": {"datum": -4.98, "type": "quantitative", "axis": null}}}
      ]
    },
    {
      "width": 585,
      "height": 350,
      "layer": [
        {"data": {"values": [{}]}, "mark": {"type": "rule", "color": "#8c8c8c", "strokeWidth": 2.5},
         "encoding": {"x": {"datum": -200, "type": "quantitative", "axis": null}, "x2": {"datum": 986}, "y": {"datum": 0, "type": "quantitative", "axis": null}}},
        {"data": {"values": [{"t": 500}, {"t": 986}]}, "mark": {"type": "rule", "color": "#8c8c8c", "strokeWidth": 1.5},
         "encoding": {"x": {"field": "t", "type": "quantitative", "axis": null}, "y": {"datum": -1.6, "type": "quantitative", "axis": null}, "y2": {"datum": 1.5}}},
        {"data": {"name": "athPZ"},
         "transform": [{"fold": ["Pro", "Retro", "Diff\\. wave"], "as": ["condition", "amplitude"]}],
         "mark": {"type": "line", "strokeWidth": 1.2},
         "encoding": {
           "x": {"field": "t", "type": "quantitative", "scale": {"domain": [-292.3, 1040.3], "nice": false, "zero": false}, "axis": null},
           "y": {"field": "amplitude", "type": "quantitative", "scale": {"domain": [-8.076, 12.512], "reverse": true, "nice": false, "zero": false}, "axis": null},
           "color": {"field": "condition", "type": "nominal",
             "scale": {"domain": ["Retro", "Pro", "Diff. wave"], "range": ["#ff2a2a", "#3a3aff", "#333333"]},
             "legend": {"title": null, "orient": "none", "legendX": 427, "legendY": 204, "padding": 0,
               "symbolType": "square", "symbolSize": 784, "symbolStrokeWidth": 1, "symbolStrokeColor": "#333333",
               "labelFont": "Open Sans", "labelFontSize": 22, "labelColor": "#111111", "labelOffset": 17, "labelLimit": 400, "rowPadding": 10.6,
               "encode": {"symbols": {"update": {
                 "fill": {"signal": "datum.value === 'Retro' ? '#cc0000' : datum.value === 'Pro' ? '#3333ff' : '#000000'"},
                 "stroke": {"value": "#333333"}, "strokeWidth": {"value": 1}, "opacity": {"value": 1}, "fillOpacity": {"value": 1}}}}}}
         }},
        {"data": {"values": [{}]}, "mark": {"type": "rule", "color": "#5ad65a", "strokeWidth": 1.5},
         "encoding": {"x": {"datum": 0, "type": "quantitative", "axis": null}, "y": {"datum": -5.53, "type": "quantitative", "axis": null}, "y2": {"datum": 3.06}}},
        {"data": {"values": [{}]}, "mark": {"type": "rule", "color": "#7777ff", "strokeWidth": 2},
         "encoding": {"x": {"datum": 0, "type": "quantitative", "axis": null}, "y": {"datum": 4.85, "type": "quantitative", "axis": null}, "y2": {"datum": 9.95}}},
        {"data": {"values": [{}]}, "mark": {"type": "rule", "color": "#7777ff", "strokeWidth": 2},
         "encoding": {"x": {"datum": 0, "type": "quantitative", "axis": null}, "x2": {"datum": 250}, "y": {"datum": 9.95, "type": "quantitative", "axis": null}}},
        {"data": {"values": [{}]}, "mark": {"type": "rule", "color": "#7777ff", "strokeWidth": 1.5},
         "encoding": {"x": {"datum": -5, "type": "quantitative", "axis": null}, "x2": {"datum": 9}, "y": {"datum": 4.85, "type": "quantitative", "axis": null}}},
        {"data": {"values": [{}]}, "mark": {"type": "rule", "color": "#7777ff", "strokeWidth": 1.5},
         "encoding": {"x": {"datum": 250, "type": "quantitative", "axis": null}, "y": {"datum": 9.6, "type": "quantitative", "axis": null}, "y2": {"datum": 10.3}}},
        {"data": {"values": [{}]}, "mark": {"type": "text", "text": "-5 µV", "font": "Liberation Sans", "fontWeight": "bold", "fontSize": 13, "align": "right", "baseline": "middle", "color": "#6b6bff"},
         "encoding": {"x": {"datum": -12.1, "type": "quantitative", "axis": null}, "y": {"datum": 4.42, "type": "quantitative", "axis": null}}},
        {"data": {"values": [{}]}, "mark": {"type": "text", "text": "250 ms", "font": "Liberation Sans", "fontWeight": "bold", "fontSize": 13, "align": "left", "baseline": "middle", "color": "#6b6bff"},
         "encoding": {"x": {"datum": 244.6, "type": "quantitative", "axis": null}, "y": {"datum": 10.45, "type": "quantitative", "axis": null}}},
        {"data": {"values": [{}]}, "mark": {"type": "text", "text": "500 ms", "font": "Open Sans", "fontSize": 13, "align": "center", "baseline": "middle", "color": "#555555"},
         "encoding": {"x": {"datum": 500.5, "type": "quantitative", "axis": null}, "y": {"datum": 2.22, "type": "quantitative", "axis": null}}},
        {"data": {"values": [{}]}, "mark": {"type": "text", "text": "PZ", "font": "Open Sans", "fontSize": 21, "align": "center", "baseline": "middle", "color": "#111111"},
         "encoding": {"x": {"datum": -104.3, "type": "quantitative", "axis": null}, "y": {"datum": -4.81, "type": "quantitative", "axis": null}}},
        {"data": {"values": [{}]}, "mark": {"type": "rule", "color": "#444444", "strokeWidth": 4, "strokeCap": "round"},
         "encoding": {"x": {"datum": 501.1, "type": "quantitative", "axis": null}, "x2": {"datum": 577.2}, "y": {"datum": 9.18, "type": "quantitative", "axis": null}, "y2": {"datum": 11.73}}},
        {"data": {"values": [{}]}, "mark": {"type": "rule", "color": "#444444", "strokeWidth": 4, "strokeCap": "round"},
         "encoding": {"x": {"datum": 501.1, "type": "quantitative", "axis": null}, "x2": {"datum": 554.4}, "y": {"datum": 9.18, "type": "quantitative", "axis": null}, "y2": {"datum": 9.86}}},
        {"data": {"values": [{}]}, "mark": {"type": "rule", "color": "#444444", "strokeWidth": 4, "strokeCap": "round"},
         "encoding": {"x": {"datum": 501.1, "type": "quantitative", "axis": null}, "x2": {"datum": 505}, "y": {"datum": 9.18, "type": "quantitative", "axis": null}, "y2": {"datum": 10.65}}}
      ]
    }
  ]
}
